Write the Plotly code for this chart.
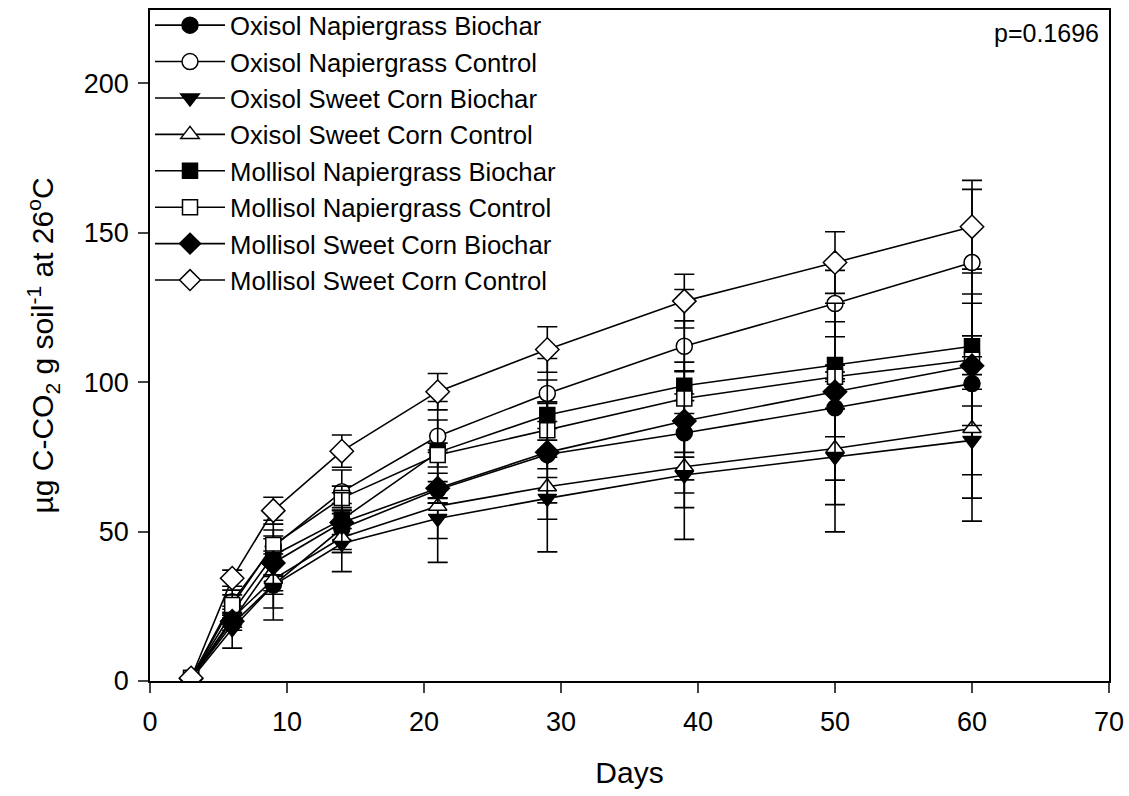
import plotly.graph_objects as go

days = [3, 6, 9, 14, 21, 29, 39, 50, 60]

series_names = [
    "Oxisol Napiergrass Biochar",
    "Oxisol Napiergrass Control",
    "Oxisol Sweet Corn Biochar",
    "Oxisol Sweet Corn Control",
    "Mollisol Napiergrass Biochar",
    "Mollisol Napiergrass Control",
    "Mollisol Sweet Corn Biochar",
    "Mollisol Sweet Corn Control",
]

# cumulative CO2-C (µg C-CO2 g soil^-1) per treatment
oxisol_napier_biochar = [0.8, 19.0, 32.1, 51.0, 64.0, 75.8, 83.0, 91.4, 99.5]
oxisol_napier_control = [1.0, 26.5, 45.0, 63.3, 81.9, 96.2, 112.0, 126.3, 140.0]
oxisol_corn_biochar = [0.5, 17.5, 32.0, 46.0, 54.4, 61.1, 68.9, 75.0, 80.5]
oxisol_corn_control = [0.9, 21.0, 34.0, 48.0, 58.5, 65.0, 71.7, 77.8, 84.5]
mollisol_napier_biochar = [1.0, 23.0, 42.0, 54.0, 76.5, 89.0, 98.8, 105.7, 112.0]
mollisol_napier_control = [1.0, 25.4, 45.5, 61.2, 75.6, 83.9, 94.5, 101.8, 107.5]
mollisol_corn_biochar = [0.8, 20.0, 39.5, 53.0, 64.5, 76.5, 87.0, 96.8, 105.5]
mollisol_corn_control = [1.0, 34.4, 57.0, 76.9, 96.8, 110.9, 127.1, 140.0, 152.0]

# standard errors
err_oxisol_napier_biochar = [0.3, 2.0, 7.7, 7.0, 2.7, 4.8, 6.5, 9.7, 38.3]
err_oxisol_napier_control = [0.3, 3.9, 5.5, 7.3, 5.4, 11.7, 8.5, 11.1, 24.5]
err_oxisol_corn_biochar = [0.3, 6.5, 3.0, 3.0, 6.7, 7.0, 6.0, 16.0, 11.5]
err_oxisol_corn_control = [0.3, 2.0, 13.6, 11.4, 18.8, 21.8, 24.3, 27.9, 31.0]
err_mollisol_napier_biochar = [0.3, 2.0, 11.8, 3.0, 17.0, 11.7, 5.0, 14.5, 14.4]
err_mollisol_napier_control = [0.3, 3.4, 3.0, 4.0, 4.0, 9.0, 36.5, 1.6, 22.0]
err_mollisol_corn_biochar = [0.3, 2.0, 4.0, 10.0, 5.0, 16.9, 19.7, 29.6, 3.0]
err_mollisol_corn_control = [0.3, 2.7, 4.5, 5.4, 6.1, 7.6, 9.0, 10.3, 15.5]

x_ticks = [0, 10, 20, 30, 40, 50, 60, 70]
y_ticks = [0, 50, 100, 150, 200]
p_label = "p=0.1696"

values = [
    oxisol_napier_biochar, oxisol_napier_control, oxisol_corn_biochar, oxisol_corn_control,
    mollisol_napier_biochar, mollisol_napier_control, mollisol_corn_biochar, mollisol_corn_control,
]
errors = [
    err_oxisol_napier_biochar, err_oxisol_napier_control, err_oxisol_corn_biochar, err_oxisol_corn_control,
    err_mollisol_napier_biochar, err_mollisol_napier_control, err_mollisol_corn_biochar, err_mollisol_corn_control,
]
symbols = ["circle", "circle", "triangle-down", "triangle-up", "square", "square", "diamond", "diamond"]
fills = ["black", "white", "black", "white", "black", "white", "black", "white"]
sizes = [16, 16, 16, 16, 15, 15, 18, 18]

FONT = "Liberation Sans, Arial, sans-serif"

fig = go.Figure()
for name, y, e, sym, fill, sz in zip(series_names, values, errors, symbols, fills, sizes):
    fig.add_trace(go.Scatter(
        x=days, y=y, name=name, mode="lines+markers", legendgroup=name,
        line=dict(color="black", width=1.6),
        marker=dict(symbol=sym, size=sz, color=fill, line=dict(color="black", width=1.5)),
        error_y=dict(type="data", array=e, visible=True, color="black", thickness=1.6, width=10),
    ))

fig.add_annotation(
    x=0.992, y=0.99, xref="paper", yref="paper", xanchor="right", yanchor="top",
    text=p_label, showarrow=False, font=dict(size=25, color="black", family=FONT),
)

fig.update_layout(
    width=1129, height=796,
    margin=dict(l=150, r=20, t=10, b=115, autoexpand=False),
    paper_bgcolor="white", plot_bgcolor="white",
    font=dict(family=FONT, color="black", size=26),
    showlegend=True,
    legend=dict(
        x=0.0, y=1.012, xanchor="left", yanchor="top",
        bgcolor="rgba(0,0,0,0)", borderwidth=0,
        font=dict(size=25.7, family=FONT, color="black"),
        traceorder="grouped", tracegroupgap=0, itemwidth=70,
    ),
    xaxis=dict(
        range=[0, 70], tickvals=x_ticks, ticks="outside", ticklen=10, tickwidth=1.5,
        showline=True, linecolor="black", linewidth=1.5, mirror=True, automargin=False,
        showgrid=False, zeroline=False, tickfont=dict(size=27), ticklabelstandoff=6,
        title=dict(text="Days", font=dict(size=30), standoff=26),
    ),
    yaxis=dict(
        range=[0, 224.5], tickvals=y_ticks, ticks="outside", ticklen=10, tickwidth=1.5,
        showline=True, linecolor="black", linewidth=1.5, mirror=True, automargin=False,
        showgrid=False, zeroline=False, tickfont=dict(size=27), ticklabelstandoff=4,
        title=dict(text="µg C-CO<sub>2</sub> g soil<sup>-1</sup> at 26<sup>o</sup>C",
                   font=dict(size=30), standoff=21),
    ),
)

fig.write_html("out.html")
